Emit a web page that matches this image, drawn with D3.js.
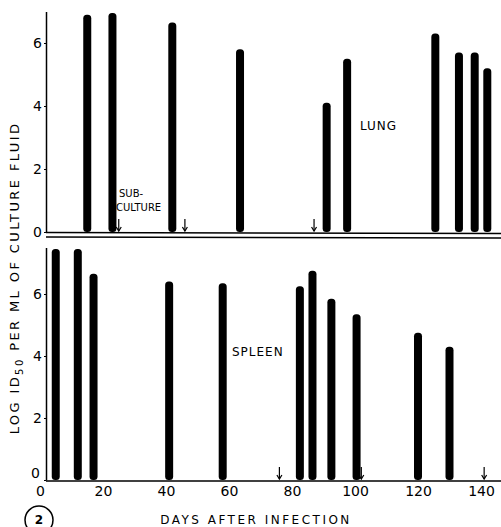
<!DOCTYPE html>
<html>
<head>
<meta charset="utf-8">
<script src="https://cdn.jsdelivr.net/npm/d3@7"></script>
<style>
  body { margin: 0; background: #fff; }
  svg text { font-family: "DejaVu Sans", sans-serif; fill: #000; }
  .tick text { font-size: 14px; }
  .lbl { font-size: 12px; letter-spacing: 1px; }
</style>
</head>
<body>
<svg id="chart" width="501" height="527"></svg>
<script>
var W = 501, H = 527;

// lung titres (top panel)
var lungDays = [15, 23, 42, 63.5, 91, 97.5, 125.5, 133, 138, 142];
var lungLog = [6.9, 6.95, 6.65, 5.8, 4.1, 5.5, 6.3, 5.7, 5.7, 5.2];
var lungSubculture = [25, 46, 87];

// spleen titres (bottom panel)
var spleenDays = [5, 12, 17, 41, 58, 82.5, 86.5, 92.5, 100.5, 120, 130];
var spleenLog = [7.45, 7.45, 6.65, 6.4, 6.35, 6.25, 6.75, 5.85, 5.35, 4.75, 4.3];
var spleenSubculture = [76, 102, 141];

var xTicks = [0, 20, 40, 60, 80, 100, 120, 140];
var yTicks = [0, 2, 4, 6];

var svg = d3.select("#chart");

var x = d3.scaleLinear().domain([0, 140]).range([40, 481]);
var yTop = d3.scaleLinear().domain([0, 7]).range([232, 11.5]);
var yBot = d3.scaleLinear().domain([0, 7.5]).range([480, 247.5]);

var AXX = 46;

function drawBars(days, vals, y) {
	var d = days.map(function(v, i){ return [v, vals[i]]; });
	svg.append("g").selectAll("rect")
		.data(d)
		.enter().append("rect")
		.attr("x", function(p){ return x(p[0]) - 4; })
		.attr("y", function(p){ return y(p[1]); })
		.attr("width", 8)
		.attr("height", function(p){ return y(0) - y(p[1]); })
		.attr("rx", 3.5)
		.attr("fill", "#000");
}

function drawArrows(days, y) {
	var g = svg.append("g");
	days.forEach(function(d) {
		var cx = x(d), by = y(0) - 1;
		g.append("line").attr("x1", cx).attr("x2", cx)
			.attr("y1", by - 12).attr("y2", by)
			.attr("stroke", "#000").attr("stroke-width", 1.2);
		g.append("path")
			.attr("d", "M" + (cx - 2.5) + "," + (by - 4) + "L" + cx + "," + by + "L" + (cx + 2.5) + "," + (by - 4))
			.attr("fill", "none").attr("stroke", "#000").attr("stroke-width", 1.2);
	});
}

// y axes
function drawYAxis(y) {
	var g = svg.append("g")
		.attr("transform", "translate(" + AXX + ",0)")
		.call(d3.axisLeft(y).tickValues(yTicks).tickSize(2).tickSizeOuter(0).tickPadding(2).tickFormat(d3.format("d")));
	g.select(".domain").attr("stroke", "#000").attr("stroke-width", 1.5);
	g.selectAll(".tick line").attr("stroke", "#000");
	return g;
}
drawYAxis(yTop);
var yb = drawYAxis(yBot);
// lift the bottom "0" so it clears the x axis "0"
yb.selectAll(".tick text").filter(function(d){ return d === 0; }).attr("y", -7).attr("dx", -2);

// top panel baseline and bottom panel frame line
svg.append("line").attr("x1", AXX).attr("x2", W).attr("y1", 232.5).attr("y2", 233.5)
	.attr("stroke", "#000").attr("stroke-width", 1.5);
svg.append("line").attr("x1", AXX).attr("x2", W).attr("y1", 237).attr("y2", 238)
	.attr("stroke", "#000").attr("stroke-width", 1.5);

// x axis
var xa = svg.append("g")
	.attr("transform", "translate(0," + 481 + ")")
	.call(d3.axisBottom(x).tickValues(xTicks).tickSize(0).tickPadding(5));
xa.select(".domain").attr("d", "M" + AXX + ",0H" + W).attr("stroke", "#000").attr("stroke-width", 1.5);

drawBars(lungDays, lungLog, yTop);
drawBars(spleenDays, spleenLog, yBot);
drawArrows(lungSubculture, yTop);
drawArrows(spleenSubculture, yBot);

// labels
svg.append("text").attr("class", "lbl").attr("x", 360).attr("y", 130).text("LUNG");
svg.append("text").attr("class", "lbl").attr("x", 232).attr("y", 356).text("SPLEEN");
svg.append("text").attr("class", "lbl").attr("x", 119).attr("y", 197).style("font-size", "10px").style("letter-spacing", "0px").text("SUB-");
svg.append("text").attr("class", "lbl").attr("x", 116).attr("y", 211).style("font-size", "10px").style("letter-spacing", "0px").text("CULTURE");

var yl = svg.append("text").attr("class", "lbl")
	.attr("transform", "translate(19,278) rotate(-90)")
	.attr("text-anchor", "middle")
	.style("font-size", "13px").style("letter-spacing", "2.4px");
yl.append("tspan").text("LOG ID");
yl.append("tspan").attr("dy", 4).style("font-size", "10px").text("50");
yl.append("tspan").attr("dy", -4).text(" PER ML OF CULTURE FLUID");

svg.append("text").attr("class", "lbl").attr("x", 256).attr("y", 524)
	.attr("text-anchor", "middle").style("letter-spacing", "2.5px").text("DAYS AFTER INFECTION");

svg.append("circle").attr("cx", 39).attr("cy", 520).attr("r", 14)
	.attr("fill", "none").attr("stroke", "#000").attr("stroke-width", 1.5);
svg.append("text").attr("x", 39).attr("y", 524).attr("text-anchor", "middle")
	.style("font-size", "12px").style("font-weight", "bold").text("2");
</script>
</body>
</html>
